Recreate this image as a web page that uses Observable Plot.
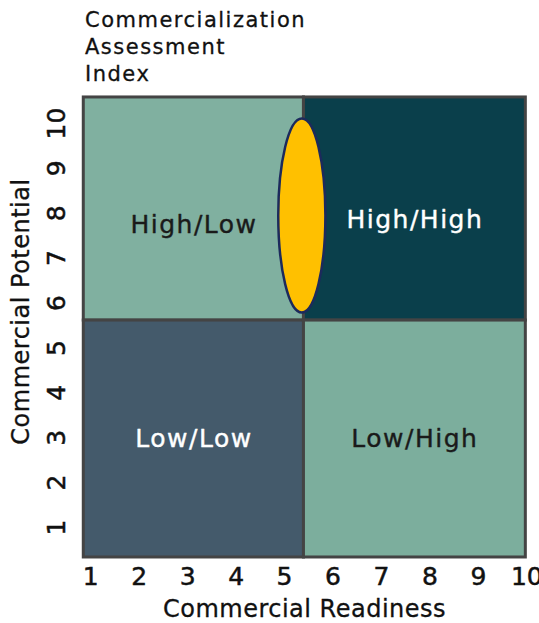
<!DOCTYPE html>
<html>
<head>
<meta charset="utf-8">
<script src="https://cdn.jsdelivr.net/npm/d3@7"></script>
<script src="https://cdn.jsdelivr.net/npm/@observablehq/plot@0.6"></script>
<style>
  html, body { margin: 0; padding: 0; background: #fff; }
  #title { font-family: "DejaVu Sans", sans-serif; font-size: 21px; line-height: 27px; letter-spacing: 1.5px; color: #111; padding: 7px 0 0 85px; height: 81px; -webkit-text-stroke: 0.3px #111; }
  #chart svg { display: block; }
  #chart text[aria-label="quadrant labels"] { letter-spacing: 1.5px; }
  #chart g[aria-label="x-axis tick label"] text,
  #chart g[aria-label="y-axis tick label"] text { stroke: #111; stroke-width: 0.5px; }
  #chart text[aria-label="axis titles"] { stroke: #111; stroke-width: 0.3px; letter-spacing: 0.5px; }
</style>
</head>
<body>
<div id="title">Commercialization<br>Assessment<br>Index</div>
<div id="chart"></div>
<script>
// Data
const quadrantNames = ["High/Low", "High/High", "Low/Low", "Low/High"];
const quadX1 = [0.855, 5.4, 0.855, 5.4];
const quadX2 = [5.4, 9.98, 5.4, 9.98];
const quadY1 = [5.61, 5.61, 0.332, 0.332];
const quadY2 = [10.58, 10.58, 5.61, 5.61];
const quadFill = ["#80b0a0", "#0a3f4b", "#445a6b", "#7cae9d"];
const labelX = [3.13, 7.69, 3.13, 7.69];
const labelY = [7.75, 7.86, 2.98, 2.98];
const labelColor = ["#1a1a1a", "#ffffff", "#ffffff", "#1a1a1a"];
const xTicks = [1, 2, 3, 4, 5, 6, 7, 8, 9, 10];
const yTicks = [1, 2, 3, 4, 5, 6, 7, 8, 9, 10];
const highlightX = [5.356];
const highlightY = [7.95];
const xTitle = "Commercial Readiness";
const yTitle = "Commercial Potential";

const quads = quadrantNames.map((name, i) => ({
  name, x1: quadX1[i], x2: quadX2[i], y1: quadY1[i], y2: quadY2[i],
  fill: quadFill[i], lx: labelX[i], ly: labelY[i], color: labelColor[i]
}));
const highlight = highlightX.map((x, i) => ({x, y: highlightY[i]}));

// ellipse symbol (tall oval)
const ellipseSymbol = {
  draw(ctx, size) {
    const r = Math.sqrt(size / Math.PI);
    const ry = r, rx = r * 0.243, k = 0.5523;
    ctx.moveTo(0, -ry);
    ctx.bezierCurveTo(k * rx, -ry, rx, -k * ry, rx, 0);
    ctx.bezierCurveTo(rx, k * ry, k * rx, ry, 0, ry);
    ctx.bezierCurveTo(-k * rx, ry, -rx, k * ry, -rx, 0);
    ctx.bezierCurveTo(-rx, -k * ry, -k * rx, -ry, 0, -ry);
    ctx.closePath();
  }
};

const font = "DejaVu Sans, sans-serif";

const chart = Plot.plot({
  width: 539,
  height: 535,
  marginTop: 9,
  marginBottom: 66,
  marginLeft: 83,
  marginRight: 14,
  style: { fontFamily: font, background: "#fff", color: "#111" },
  x: { domain: [1, 10], range: [90.3, 526.3] },
  y: { domain: [1, 10], range: [439, 35] },
  marks: [
    Plot.rect(quads, { x1: "x1", x2: "x2", y1: "y1", y2: "y2", fill: "fill", stroke: "#444", strokeWidth: 3 }),
    Plot.text(quads, { x: "lx", y: "ly", text: "name", fill: "color", stroke: "color", strokeWidth: 0.4, fontSize: 25, ariaLabel: () => "quadrant labels" }),
    Plot.dot(highlight, { x: "x", y: "y", r: 97, symbol: ellipseSymbol, fill: "#FFC000", stroke: "#1c2a5c", strokeWidth: 2.5 }),
    Plot.axisX({ ticks: xTicks, tickSize: 0, tickPadding: 10, fontSize: 25, label: null, tickFormat: d => String(d) }),
    Plot.axisY({ ticks: yTicks, tickSize: 0, tickPadding: 19, tickRotate: -90, fontSize: 25, label: null, tickFormat: d => String(d) }),
    Plot.text([xTitle], { frameAnchor: "bottom", text: d => d, dy: 59, fontSize: 24, fill: "#111", ariaLabel: () => "axis titles" }),
    Plot.text([yTitle], { frameAnchor: "left", textAnchor: "middle", text: d => d, dx: -62, dy: -16, rotate: -90, fontSize: 24, fill: "#111", ariaLabel: () => "axis titles" })
  ]
});
document.getElementById("chart").appendChild(chart);
</script>
</body>
</html>
